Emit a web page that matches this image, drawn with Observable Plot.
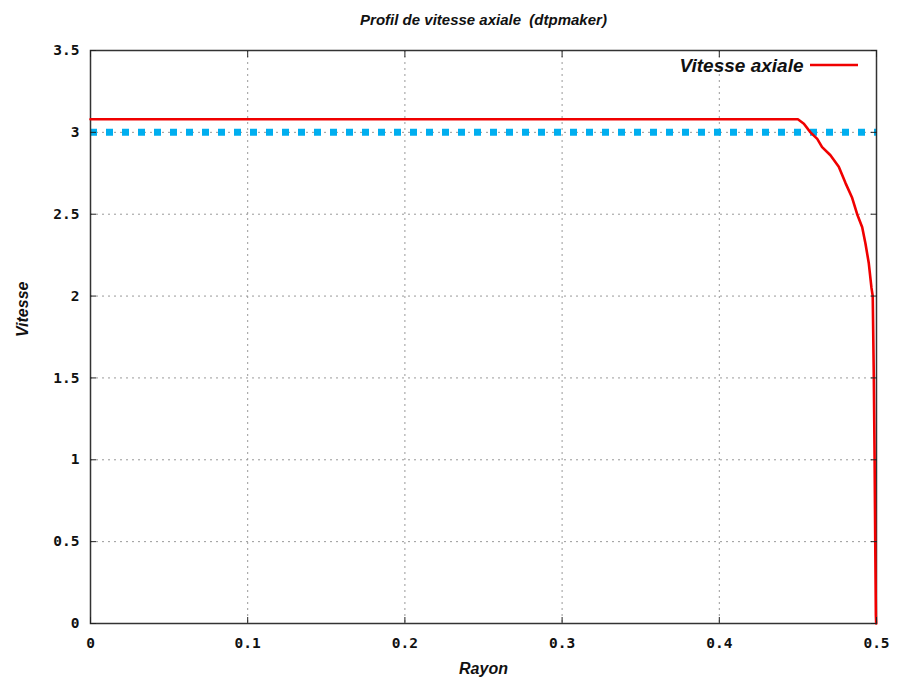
<!DOCTYPE html>
<html><head><meta charset="utf-8">
<script src="https://cdn.jsdelivr.net/npm/d3@7"></script>
<script src="https://cdn.jsdelivr.net/npm/@observablehq/plot@0.6"></script>
<style>body{margin:0;background:#fff}</style>
</head><body><div id="chart"></div>
<script>
const rayon   = [0, 0.05, 0.1, 0.15, 0.2, 0.25, 0.3, 0.35, 0.4, 0.45, 0.4538, 0.458, 0.4623, 0.4654, 0.4707, 0.476, 0.4803, 0.4845, 0.4877, 0.4909, 0.493, 0.4951, 0.4968, 0.4976, 0.4983, 0.4988, 0.4992, 0.4996, 0.4998];
const vitesse = [3.08, 3.08, 3.08, 3.08, 3.08, 3.08, 3.08, 3.08, 3.08, 3.08, 3.053, 3.00, 2.96, 2.91, 2.86, 2.79, 2.69, 2.60, 2.50, 2.42, 2.32, 2.20, 2.05, 2.00, 1.50, 1.00, 0.50, 0.05, 0];
const referenceLevel = [3];
const xTicks = [0, 0.1, 0.2, 0.3, 0.4, 0.5];
const yTicks = [0, 0.5, 1, 1.5, 2, 2.5, 3, 3.5];
const titleText = "Profil de vitesse axiale  (dtpmaker)";
const xLabel = "Rayon";
const yLabel = "Vitesse";
const legendLabel = "Vitesse axiale";

const data = rayon.map((r, i) => ({r, v: vitesse[i]}));
const labelFont = "'Liberation Sans', Arial, sans-serif";
const tickFont = "'DejaVu Sans Mono', monospace";
const fmt = d => String(d);
const lbl = {fontFamily: labelFont, fontStyle: "italic", fontWeight: "bold", fill: "#111"};

const chart = Plot.plot({
  width: 898, height: 681,
  marginLeft: 90, marginRight: 22, marginTop: 50, marginBottom: 58,
  x: {domain: [0, 0.5]},
  y: {domain: [0, 3.5]},
  style: {background: "white", overflow: "visible"},
  marks: [
    Plot.gridX(xTicks.slice(1, -1), {stroke: "#999", strokeOpacity: 1, strokeDasharray: "2,4", strokeWidth: 1}),
    Plot.gridY(yTicks.slice(1, -1), {stroke: "#999", strokeOpacity: 1, strokeDasharray: "2,4", strokeWidth: 1}),
    Plot.ruleY(referenceLevel, {stroke: "#00aeef", strokeWidth: 7, strokeDasharray: "7,9"}),
    Plot.frame({stroke: "#333", strokeWidth: 1.5}),
    Plot.line(data, {x: "r", y: "v", stroke: "#f00000", strokeWidth: 2.6}),
    Plot.axisX(xTicks, {anchor: "bottom", tickSize: -6, tickFormat: () => "", stroke: "#222", label: null}),
    Plot.axisX(xTicks, {anchor: "top", tickSize: -6, tickFormat: () => "", stroke: "#222", label: null}),
    Plot.axisY(yTicks, {anchor: "left", tickSize: -6, tickFormat: () => "", stroke: "#222", label: null}),
    Plot.axisY(yTicks, {anchor: "right", tickSize: -6, tickFormat: () => "", stroke: "#222", label: null}),
    Plot.axisX(xTicks, {anchor: "bottom", tickSize: 0, tickPadding: 14, tickFormat: fmt, label: null,
      fontFamily: tickFont, fontWeight: "bold", fontSize: 14.5, fill: "#111"}),
    Plot.axisY(yTicks, {anchor: "left", tickSize: 0, tickPadding: 11, tickFormat: fmt, label: null,
      fontFamily: tickFont, fontWeight: "bold", fontSize: 14.5, fill: "#111"}),
    Plot.text([titleText], {...lbl, frameAnchor: "top", dy: -36, fontSize: 15}),
    Plot.text([xLabel], {...lbl, frameAnchor: "bottom", dy: 50, fontSize: 16}),
    Plot.text([yLabel], {...lbl, frameAnchor: "left", dx: -68, rotate: -90, fontSize: 16}),
    Plot.text([legendLabel], {...lbl, frameAnchor: "top-right", textAnchor: "end", dx: -73, dy: 8, fontSize: 19})
  ]
});

d3.select(chart).append("line")
  .attr("x1", 810).attr("x2", 858).attr("y1", 65).attr("y2", 65)
  .attr("stroke", "#f00000").attr("stroke-width", 2.6);

document.getElementById("chart").append(chart);
</script>
</body></html>
